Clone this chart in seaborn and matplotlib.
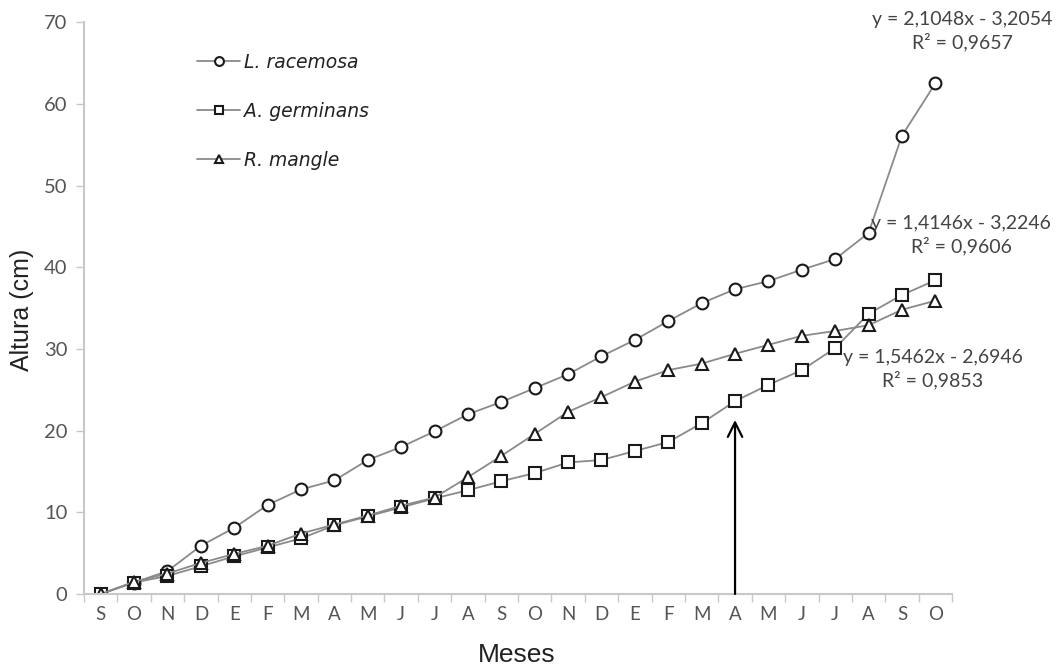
import matplotlib
matplotlib.use("Agg")
import matplotlib.pyplot as plt
import seaborn as sns
import pandas as pd
import numpy as np
from matplotlib.ticker import FixedLocator

months = ["S", "O", "N", "D", "E", "F", "M", "A", "M", "J", "J", "A", "S",
          "O", "N", "D", "E", "F", "M", "A", "M", "J", "J", "A", "S", "O"]

racemosa = [0, 1.4, 2.8, 5.9, 8.1, 10.9, 12.8, 13.9, 16.4, 18.0, 19.9, 22.0, 23.5,
            25.2, 26.9, 29.1, 31.1, 33.4, 35.6, 37.3, 38.3, 39.7, 41.0, 44.2, 56.1, 62.5]
germinans = [0, 1.4, 2.2, 3.4, 4.6, 5.7, 6.8, 8.4, 9.5, 10.6, 11.7, 12.7, 13.8,
             14.8, 16.1, 16.4, 17.5, 18.6, 20.9, 23.6, 25.6, 27.4, 30.1, 34.3, 36.6, 38.4]
mangle = [0, 1.5, 2.5, 3.8, 4.9, 5.9, 7.4, 8.5, 9.6, 10.8, 11.8, 14.3, 16.9,
          19.6, 22.3, 24.1, 26.0, 27.4, 28.2, 29.4, 30.5, 31.6, 32.2, 32.9, 34.8, 35.9]

series_names = ["L. racemosa", "A. germinans", "R. mangle"]
equations = ["y = 2,1048x - 3,2054\nR² = 0,9657",
             "y = 1,4146x - 3,2246\nR² = 0,9606",
             "y = 1,5462x - 2,6946\nR² = 0,9853"]
arrow_month_index = 19
arrow_top = 21.3

sns.set_theme(style="white")
plt.rcParams["font.family"] = ["Lato", "DejaVu Sans"]

W, H = 1057, 671
fig = plt.figure(figsize=(W / 100, H / 100), dpi=100)
ax = fig.add_axes([0.0795, 0.1148, 0.8212, 0.8522])

x = np.arange(len(months))
markers = ["o", "s", "^"]
msizes = [8.5, 8.5, 8.5]
for vals, name, mk, ms in zip([racemosa, germinans, mangle], series_names, markers, msizes):
    df = pd.DataFrame({"x": x, "y": vals})
    sns.lineplot(data=df, x="x", y="y", ax=ax, color="#8a8a8a", lw=1.3,
                 marker=mk, markersize=ms, markerfacecolor="white",
                 markeredgecolor="#1a1a1a", markeredgewidth=1.5, label=name)

ax.set_xlim(-0.5, len(months) - 0.5)
ax.set_ylim(0, 70)
ax.set_yticks(range(0, 71, 10))
ax.set_xticks(x)
ax.set_xticklabels(months)
ax.xaxis.set_minor_locator(FixedLocator(np.arange(-0.5, len(months), 1.0)))
ax.tick_params(axis="x", which="major", length=0, pad=9, labelsize=13.5, labelcolor="#555555")
ax.tick_params(axis="x", which="minor", length=6, width=1, color="#c8c8c8", direction="out", bottom=True)
ax.tick_params(axis="y", length=6, width=1, color="#c8c8c8", direction="out", left=True,
               labelsize=14.5, labelcolor="#555555", pad=6)

for s in ["top", "right"]:
    ax.spines[s].set_visible(False)
for s in ["left", "bottom"]:
    ax.spines[s].set_color("#c8c8c8")
    ax.spines[s].set_linewidth(1.5)

ax.set_xlabel("")
ax.set_ylabel("")
fig.text(517 / W, 1 - 655 / H, "Meses", fontsize=19, family=["Liberation Sans", "DejaVu Sans"],
         color="#222222", ha="center", va="center")
fig.text(22 / W, 1 - 310 / H, "Altura (cm)", fontsize=18, family=["Liberation Sans", "DejaVu Sans"],
         color="#222222", ha="center", va="center", rotation=90)

leg = ax.legend(loc="upper left", bbox_to_anchor=(197 / W, 1 - 53 / H), bbox_transform=fig.transFigure,
                frameon=False, handlelength=2.3, borderpad=0, borderaxespad=0,
                labelspacing=1.6, markerscale=0.75, handletextpad=0.2,
                prop={"family": ["DejaVu Sans"], "style": "italic", "size": 13.5})
for t in leg.get_texts():
    t.set_color("#222222")

eq_pos = [(962, 31.5), (961, 235.5), (933, 369.5)]
for txt, (px, py) in zip(equations, eq_pos):
    fig.text(px / W, 1 - py / H, txt, ha="center", va="center", multialignment="center",
             fontsize=14, color="#444444", linespacing=1.3)

ax.annotate("", xy=(arrow_month_index, arrow_top), xytext=(arrow_month_index, 0),
            arrowprops=dict(arrowstyle="->", color="black", lw=1.6, mutation_scale=26,
                            shrinkA=0, shrinkB=0))

fig.savefig("out.png", dpi=100)
